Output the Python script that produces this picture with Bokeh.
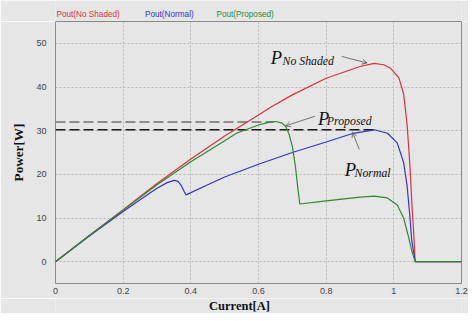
from bokeh.plotting import figure
from bokeh.layouts import column
from bokeh.models import Label, Arrow, OpenHead, FixedTicker, Range1d, ColumnDataSource
from bokeh.core.properties import value
from bokeh.embed import file_html
from bokeh.resources import INLINE

# ---- data ----
i_noshade = [0, 0.1, 0.2, 0.3, 0.4, 0.5, 0.6, 0.637, 0.7, 0.8, 0.9, 0.942, 0.97, 0.99, 1.015, 1.029, 1.039, 1.047, 1.053, 1.06, 1.063, 1.2]
p_noshade = [0, 6.0, 11.9, 17.9, 23.5, 28.8, 33.6, 35.4, 38.2, 42.0, 44.7, 45.4, 45.1, 44.3, 42.1, 38.4, 31.6, 22.7, 13.7, 4.8, 0, 0]

i_normal = [0, 0.1, 0.2, 0.25, 0.3, 0.33, 0.351, 0.362, 0.372, 0.38, 0.386, 0.45, 0.5, 0.6, 0.7, 0.8, 0.88, 0.942, 0.981, 1.01, 1.029, 1.039, 1.047, 1.053, 1.063, 1.2]
p_normal = [0, 5.9, 11.5, 14.2, 16.8, 18.1, 18.6, 18.4, 17.4, 16.1, 15.3, 17.6, 19.4, 22.3, 25.0, 27.4, 29.4, 30.2, 29.4, 27.2, 22.7, 17.5, 10.8, 4.8, 0, 0]

i_proposed = [0, 0.1, 0.2, 0.3, 0.4, 0.5, 0.535, 0.6, 0.63, 0.651, 0.668, 0.68, 0.69, 0.70, 0.709, 0.716, 0.722, 0.8, 0.9, 0.942, 0.981, 1.01, 1.029, 1.044, 1.053, 1.063, 1.2]
p_proposed = [0, 6.0, 11.8, 17.6, 22.9, 27.7, 29.4, 31.3, 31.9, 32.1, 31.8, 31.0, 29.3, 26.4, 21.9, 17.0, 13.2, 13.9, 14.8, 15.0, 14.6, 13.0, 10.0, 5.5, 2.5, 0, 0]

max_proposed = 32.0
max_proposed_i = 0.645
max_normal = 30.2
max_normal_i = 0.942

x_ticks = [0, 0.2, 0.4, 0.6, 0.8, 1.0, 1.2]
x_tick_labels = ["0", "0.2", "0.4", "0.6", "0.8", "1", "1.2"]
y_ticks = [0, 10, 20, 30, 40, 50]

legend_names = ["Pout(No Shaded)", "Pout(Normal)", "Pout(Proposed)"]
x_title = "Current[A]"
y_title = "Power[W]"

RED = "#e0303a"
BLUE = "#3333d4"
GREEN = "#2e8a2e"
BG = "#e6e6e6"

# ---- layout (pixels) ----
W = 468
TOP_H = 21          # strip holding the colored legend texts
FRAME_H = 262
MAIN_H = FRAME_H + 15
BOT_H = 15          # strip holding the x-axis title
FRAME_L, FRAME_R = 55, 461

def strip(h):
    # strip frame is aligned with the main frame; its x data unit equals one canvas pixel
    f = figure(width=W, height=h, output_backend="svg", toolbar_location=None,
               x_range=Range1d(FRAME_L, FRAME_R), y_range=Range1d(0, h),
               min_border_left=FRAME_L, min_border_right=W - FRAME_R,
               min_border_top=0, min_border_bottom=0)
    f.background_fill_color = BG
    f.border_fill_color = BG
    f.outline_line_color = None
    f.axis.visible = False
    f.grid.visible = False
    return f

top = strip(TOP_H)
leg_x = [56, 144.5, 216]
leg_src = ColumnDataSource(dict(x=leg_x, y=[TOP_H - 13.7] * 3, t=legend_names, c=[RED, BLUE, GREEN]))
top.text(x="x", y="y", text="t", text_color="c", source=leg_src,
         text_font=value("Liberation Sans"), text_font_size="8.2px", text_baseline="middle")

p = figure(width=W, height=MAIN_H, output_backend="svg", toolbar_location=None,
           x_range=Range1d(0, 1.2), y_range=Range1d(-5, 55),
           min_border_left=FRAME_L, min_border_right=W - FRAME_R, min_border_top=0, min_border_bottom=MAIN_H - FRAME_H)
p.background_fill_color = BG
p.border_fill_color = BG
p.outline_line_color = "#8a8a8a"
p.outline_line_width = 1

for ax in (p.xaxis[0], p.yaxis[0]):
    ax.axis_line_color = None
    ax.major_tick_line_color = None
    ax.minor_tick_line_color = None
    ax.major_tick_out = 0
    ax.major_tick_in = 0
    ax.major_label_text_font = "Liberation Sans"
    ax.major_label_text_font_size = "9px"
    ax.major_label_text_color = "#444444"

p.xaxis.ticker = FixedTicker(ticks=x_ticks)
p.xaxis.major_label_overrides = {t: l for t, l in zip(x_ticks, x_tick_labels)}
p.xaxis.major_label_standoff = 4
p.yaxis.ticker = FixedTicker(ticks=y_ticks)
p.yaxis.major_label_standoff = 9
p.yaxis.axis_label = y_title
p.yaxis.axis_label_text_font = "Liberation Serif"
p.yaxis.axis_label_text_font_style = "bold"
p.yaxis.axis_label_text_font_size = "13.2px"
p.yaxis.axis_label_text_color = "#111111"
p.yaxis.axis_label_standoff = 7

p.grid.grid_line_color = "#b8b8b8"
p.grid.grid_line_dash = "2 2"
p.grid.grid_line_width = 1

# dashed reference lines
p.line([0, max_proposed_i], [max_proposed, max_proposed], line_color="#707070", line_width=1.6, line_dash="10 4")
p.line([0, max_normal_i], [max_normal, max_normal], line_color="#1a1a1a", line_width=1.6, line_dash="10 4")

p.line(i_noshade, p_noshade, line_color=RED, line_width=1.2)
p.line(i_normal, p_normal, line_color=BLUE, line_width=1.2)
p.line(i_proposed, p_proposed, line_color=GREEN, line_width=1.2)

# annotations
def annot(xp, yp, sub, xs, ys):
    p.add_layout(Label(x=xp, y=yp, text="P", text_font="Liberation Serif", text_font_style="italic",
                       text_font_size="18.5px", text_color="#111111", text_baseline="alphabetic"))
    p.add_layout(Label(x=xs, y=ys, text=sub, text_font="Liberation Serif", text_font_style="italic",
                       text_font_size="11.8px", text_color="#111111", text_baseline="alphabetic"))

annot(0.636, 46.6, "No Shaded", 0.671, 45.9)
annot(0.776, 32.7, "Proposed", 0.802, 32.1)
annot(0.855, 21.0, "Normal", 0.884, 20.2)

for (x0, y0, x1, y1) in [(0.846, 47.0, 0.921, 45.5), (0.767, 33.3, 0.680, 31.1), (0.898, 25.7, 0.878, 29.6)]:
    p.add_layout(Arrow(end=OpenHead(size=5, line_color="#555555", line_width=0.8),
                       x_start=x0, y_start=y0, x_end=x1, y_end=y1,
                       line_color="#555555", line_width=0.8))

bot = strip(BOT_H)
xl_src = ColumnDataSource(dict(x=[239], y=[BOT_H / 2], t=[x_title]))
bot.text(x="x", y="y", text="t", source=xl_src, text_font=value("Liberation Serif"),
         text_font_style="bold", text_font_size="12.5px", text_color="#111111",
         text_align="center", text_baseline="middle")

layout = column(top, p, bot, spacing=0)
open("out.html", "w").write(file_html(layout, INLINE))
